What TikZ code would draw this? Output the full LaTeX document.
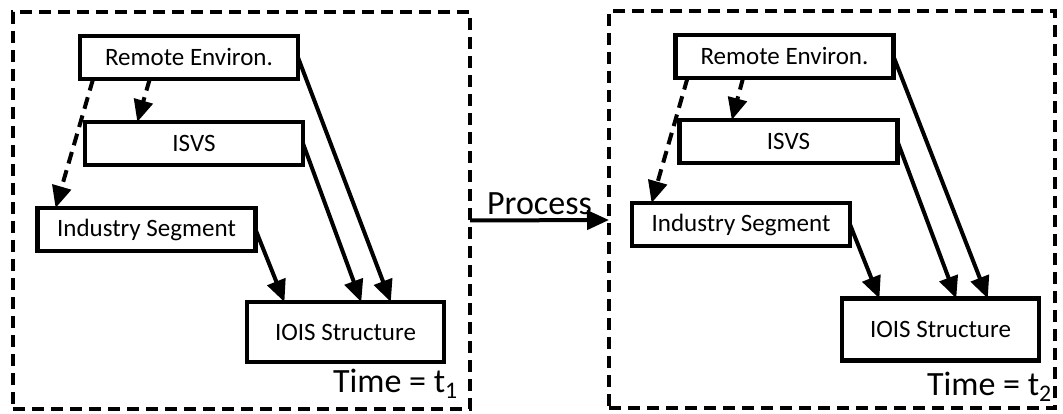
\documentclass[tikz,border=0pt]{standalone}
\usepackage{fontspec}
\setmainfont{Carlito}
\usepackage{tikz}
\usetikzlibrary{arrows.meta, positioning, calc}

\begin{document}
\begin{tikzpicture}[
      x=1pt, y=-1pt,
      box/.style  ={rectangle, draw, line width=4.5pt, minimum width=218pt, minimum height=43pt, inner sep=0pt, outer sep=0pt, font=\fontsize{25}{29}\selectfont},
      frame/.style={rectangle, draw, line width=4.5pt, dash pattern=on 12pt off 7pt, minimum width=457pt, minimum height=397pt, inner sep=0pt, outer sep=0pt},
      stamp/.style={font=\fontsize{34}{38}\selectfont, inner sep=0pt},
      link/.style ={line width=4pt, -{Triangle[length=22pt, width=19pt]}},
      weak/.style ={link, dash pattern=on 12pt off 7pt}
    ]
    \useasboundingbox (0,0) rectangle (1063,414);

    % Rahmen
    \node[frame] (F1) at (241.5,210.5) {};
    \node[frame, minimum width=446pt] (F2) at (832,209.5) {};

    % Zeitpunkt t1
    \node[box]                                (RE1)   at (189,57.5) {Remote Environ.};
    \node[box, below=43pt of RE1, xshift=5pt]   (ISVS1) {ISVS};
    \node[box, below=43pt of ISVS1, xshift=-47.5pt] (IS1) {Industry Segment};
    \node[box, minimum width=197pt, minimum height=60pt] (IOIS1) at (345.5,332) {IOIS Structure};
    \node[stamp, anchor=base east] (T1) at (458,392) {Time = t\textsubscript{1}};

    \draw[weak] ($(RE1.south west)!0.06!(RE1.south east)$) -- ($(IS1.north west)!0.083!(IS1.north east)$);
    \draw[weak] ($(RE1.south west)!0.32!(RE1.south east)$) -- ($(ISVS1.north west)!0.24!(ISVS1.north east)$);
    \draw[link] (RE1.east)   -- ($(IOIS1.north west)!0.73!(IOIS1.north east)$);
    \draw[link] (ISVS1.east) -- ($(IOIS1.north west)!0.58!(IOIS1.north east)$);
    \draw[link] (IS1.east)   -- ($(IOIS1.north west)!0.19!(IOIS1.north east)$);

    % Zeitpunkt t2
    \node[box]                                (RE2)   at (784.5,56.5) {Remote Environ.};
    \node[box, below=42pt of RE2, xshift=4pt]   (ISVS2) {ISVS};
    \node[box, below=40pt of ISVS2, xshift=-47.5pt] (IS2) {Industry Segment};
    \node[box, minimum width=197pt, minimum height=62pt] (IOIS2) at (940.5,329.5) {IOIS Structure};
    \node[stamp, anchor=base east] (T2) at (1052,395) {Time = t\textsubscript{2}};

    \draw[weak] ($(RE2.south west)!0.055!(RE2.south east)$) -- ($(IS2.north west)!0.09!(IS2.north east)$);
    \draw[weak] ($(RE2.south west)!0.31!(RE2.south east)$) -- ($(ISVS2.north west)!0.24!(ISVS2.north east)$);
    \draw[link] (RE2.east)   -- ($(IOIS2.north west)!0.74!(IOIS2.north east)$);
    \draw[link] (ISVS2.east) -- ($(IOIS2.north west)!0.58!(IOIS2.north east)$);
    \draw[link] (IS2.east)   -- ($(IOIS2.north west)!0.19!(IOIS2.north east)$);

    % Prozess
    \draw[link] ([yshift=-10pt]F1.east) -- node[stamp, above=4pt] (P) {Process} ([yshift=-10.5pt]F2.west);

  \end{tikzpicture}
\end{document}
